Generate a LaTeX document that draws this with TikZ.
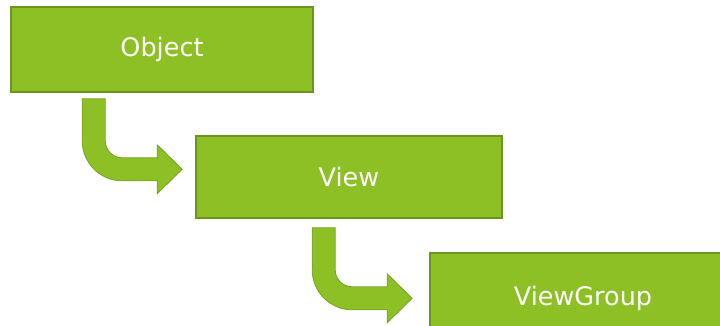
\documentclass[tikz,border=0pt]{standalone}
\usepackage{fontspec}
\setmainfont{DejaVu Sans}
\usetikzlibrary{calc}
\definecolor{boxfill}{RGB}{141,192,36}
\definecolor{boxline}{RGB}{108,148,30}
\definecolor{arrline}{RGB}{120,162,36}
\tikzset{
  classbox/.style={draw=boxline, line width=1.6pt, fill=boxfill, minimum width=#1, minimum height=82pt,
    inner sep=0pt, text=white, font=\fontsize{25.5}{28}\selectfont},
  bentarrow/.pic={
    \fill[boxfill, draw=arrline, line width=0.8pt]
      (0,0) -- (0,-42) arc[start angle=180, end angle=270, radius=40pt]
      -- (75,-82) -- (75,-95) -- (100,-70.5) -- (75,-46) -- (75,-59)
      -- (40,-59) arc[start angle=270, end angle=180, radius=17pt]
      -- (23,0) -- cycle;
  }
}
\begin{document}
\begin{tikzpicture}[x=1pt,y=1pt]
\useasboundingbox (0,0) rectangle (720,326);
\clip (0,0) rectangle (720,326);
\fill[white] (0,0) rectangle (720,326);
\node[classbox=302pt, minimum height=85pt] (obj) at (162,276.5) {Object};
\node[classbox=306pt] (view) at (349,149) {View};
\node[classbox=306pt, minimum height=90pt] (vg) at (583,28) {ViewGroup};
\coordinate (a1) at ($(obj.south west)+(72,-6)$);
\coordinate (a2) at ($(view.south west)+(117,-9)$);
\pic at (a1) {bentarrow};
\pic at (a2) {bentarrow};
\end{tikzpicture}
\end{document}
